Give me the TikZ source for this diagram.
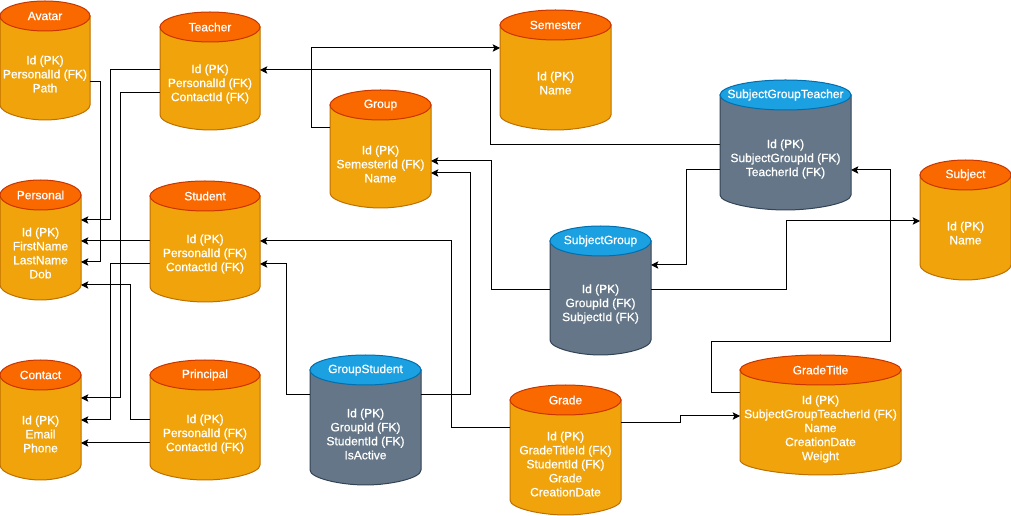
\documentclass[tikz,border=0pt]{standalone}
\usepackage{fontspec}
\setmainfont{Liberation Sans}
\newfontfamily\heavyfont{Liberation Sans}[RawFeature={embolden=0.8}]
\usetikzlibrary{arrows.meta,fit}
\definecolor{obodyfill}{HTML}{F0A30A}
\definecolor{obodyline}{HTML}{BD7000}
\definecolor{oheadfill}{HTML}{FA6800}
\definecolor{oheadline}{HTML}{C73500}
\definecolor{gbodyfill}{HTML}{647687}
\definecolor{gbodyline}{HTML}{314354}
\definecolor{gheadfill}{HTML}{1BA1E2}
\definecolor{gheadline}{HTML}{006EAF}
\tikzset{
  obody/.style={fill=obodyfill, draw=obodyline, line width=0.75pt},
  ohead/.style={fill=oheadfill, draw=oheadline, line width=0.75pt},
  gbody/.style={fill=gbodyfill, draw=gbodyline, line width=0.75pt},
  ghead/.style={fill=gheadfill, draw=gheadline, line width=0.75pt},
  ttl/.style={text=white, font=\heavyfont\fontsize{9}{10.5}\selectfont, inner sep=0pt},
  fld/.style={text=white, font=\heavyfont\fontsize{9}{10.5}\selectfont, align=center, inner sep=0pt},
  conn/.style={draw=black, line width=0.75pt, -{Stealth[length=5.5pt,width=5.5pt,inset=1.2pt]}},
}
% name, left, top, right, bottom, kind, title, fields, fields-center-y
\newcommand\dbcyl[9]{%
  \draw[#6body] ({#2},{#3+15}) -- ({#2},{#5-15})
    .. controls ({#2},{#5-6.72}) and ({#2+0.2761*(#4-#2)},{#5}) .. ({(#2+#4)/2},{#5})
    .. controls ({#4-0.2761*(#4-#2)},{#5}) and ({#4},{#5-6.72}) .. ({#4},{#5-15})
    -- ({#4},{#3+15}) -- cycle;
  \draw[#6head] ({(#2+#4)/2},{#3+15}) ellipse [x radius={(#4-#2)/2}, y radius=15];
  \node[fit={({#2},{#3}) ({#4},{#5})}, inner sep=0pt, outer sep=0pt] (#1) {};
  \node[ttl] (#1-t) at ({(#2+#4)/2},{#3+15}) {#7};
  \node[fld] (#1-f) at ({(#2+#4)/2},{#9}) {#8};
}
\begin{document}
\begin{tikzpicture}[x=0.75pt, y=-0.75pt]
\useasboundingbox (0,0) rectangle (1011,516);
\fill[white] (0,0) rectangle (1011,516);

\dbcyl{avatar}{0}{1}{90}{120}{o}{Avatar}{Id (PK)\\PersonalId (FK)\\Path}{74}
\dbcyl{teacher}{160}{12}{260}{130}{o}{Teacher}{Id (PK)\\PersonalId (FK)\\ContactId (FK)}{84}
\dbcyl{personal}{0}{180}{81}{300}{o}{Personal}{Id (PK)\\FirstName\\LastName\\Dob}{253}
\dbcyl{student}{150}{181}{260}{302}{o}{Student}{Id (PK)\\PersonalId (FK)\\ContactId (FK)}{254}
\dbcyl{contact}{0}{360}{81}{480}{o}{Contact}{Id (PK)\\Email\\Phone}{434}
\dbcyl{principal}{150}{360}{260}{480}{o}{Principal}{Id (PK)\\PersonalId (FK)\\ContactId (FK)}{434}
\dbcyl{semester}{500}{10}{611}{130}{o}{Semester}{Id (PK)\\Name}{83}
\dbcyl{group}{330}{90}{431}{208}{o}{Group}{Id (PK)\\SemesterId (FK)\\Name}{164}
\dbcyl{sgt}{720}{80}{851}{210}{g}{SubjectGroupTeacher}{Id (PK)\\SubjectGroupId (FK)\\TeacherId (FK)}{159}
\dbcyl{subject}{920}{160}{1011}{280}{o}{Subject}{Id (PK)\\Name}{233}
\dbcyl{subjectgroup}{550}{226}{651}{355}{g}{SubjectGroup}{Id (PK)\\GroupId (FK)\\SubjectId (FK)}{304}
\dbcyl{groupstudent}{310}{355}{421}{485}{g}{GroupStudent}{Id (PK)\\GroupId (FK)\\StudentId (FK)\\IsActive}{434}
\dbcyl{grade}{510}{385}{621}{515}{o}{Grade}{Id (PK)\\GradeTitleId (FK)\\StudentId (FK)\\Grade\\CreationDate}{464}
\dbcyl{gradetitle}{740}{355}{901}{475}{o}{GradeTitle}{Id (PK)\\SubjectGroupTeacherId (FK)\\Name\\CreationDate\\Weight}{429}

% connectors
\draw[conn] (avatar.east |- 0,82) -- (100,82) -- (100,262) -- (personal.east |- 0,262);
\draw[conn] (teacher.west |- 0,70) -- (110,70) -- (110,220) -- (personal.east |- 0,220);
\draw[conn] (teacher.west |- 0,93) -- (120,93) -- (120,398) -- (contact.east |- 0,398);
\draw[conn] (student.west |- 0,241) -- (personal.east |- 0,241);
\draw[conn] (student.west |- 0,264) -- (110,264) -- (110,420) -- (contact.east |- 0,420);
\draw[conn] (principal.west |- 0,420) -- (130,420) -- (130,285) -- (personal.east |- 0,285);
\draw[conn] (principal.west |- 0,443) -- (contact.east |- 0,443);
\draw[conn] (group.west |- 0,128) -- (311,128) -- (311,48) -- (semester.west |- 0,48);
\draw[conn] (sgt.west |- 0,145) -- (490,145) -- (490,70) -- (teacher.east |- 0,70);
\draw[conn] (groupstudent.east |- 0,395) -- (470,395) -- (470,173) -- (group.east |- 0,173);
\draw[conn] (subjectgroup.west |- 0,290) -- (491,290) -- (491,161) -- (group.east |- 0,161);
\draw[conn] (groupstudent.west |- 0,395) -- (286,395) -- (286,264) -- (student.east |- 0,264);
\draw[conn] (grade.west |- 0,428) -- (451,428) -- (451,241) -- (student.east |- 0,241);
\draw[conn] (sgt.west |- 0,170) -- (686,170) -- (686,265) -- (subjectgroup.east |- 0,265);
\draw[conn] (subjectgroup.east |- 0,290) -- (786,290) -- (786,221) -- (subject.west |- 0,221);
\draw[conn] (gradetitle.west |- 0,393) -- (711,393) -- (711,342) -- (890,342) -- (890,170) -- (sgt.east |- 0,170);
\draw[conn] (grade.east |- 0,423) -- (680,423) -- (680,416) -- (gradetitle.west |- 0,416);
\end{tikzpicture}
\end{document}
